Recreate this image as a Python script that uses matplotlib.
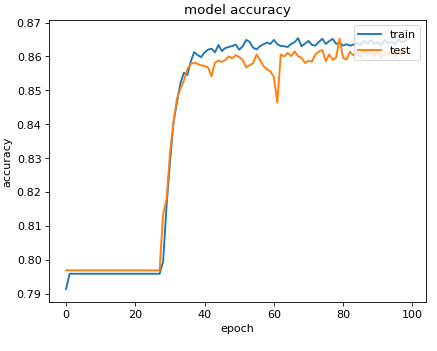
import matplotlib
matplotlib.use("Agg")
import matplotlib.pyplot as plt

# accuracy per epoch
train_acc = [
    0.7915, 0.7960, 0.7960, 0.7960, 0.7960, 0.7960, 0.7960, 0.7960, 0.7960, 0.7960,
    0.7960, 0.7960, 0.7960, 0.7960, 0.7960, 0.7960, 0.7960, 0.7960, 0.7960, 0.7960,
    0.7960, 0.7960, 0.7960, 0.7960, 0.7960, 0.7960, 0.7960, 0.7960, 0.7995, 0.8158,
    0.8288, 0.8405, 0.8465, 0.8520, 0.8552, 0.8545, 0.8585, 0.8613, 0.8604, 0.8598,
    0.8612, 0.8620, 0.8623, 0.8612, 0.8634, 0.8616, 0.8625, 0.8628, 0.8631, 0.8635,
    0.8620, 0.8630, 0.8649, 0.8643, 0.8626, 0.8621, 0.8630, 0.8636, 0.8641, 0.8637,
    0.8649, 0.8636, 0.8631, 0.8630, 0.8628, 0.8637, 0.8642, 0.8654, 0.8630, 0.8638,
    0.8646, 0.8634, 0.8632, 0.8643, 0.8652, 0.8637, 0.8645, 0.8652, 0.8637, 0.8641,
    0.8632, 0.8636, 0.8632, 0.8635, 0.8640, 0.8634, 0.8645, 0.8638, 0.8650, 0.8636,
    0.8642, 0.8633, 0.8648, 0.8639, 0.8644, 0.8636, 0.8650, 0.8641, 0.8647, 0.8652,
]
test_acc = [
    0.7970, 0.7970, 0.7970, 0.7970, 0.7970, 0.7970, 0.7970, 0.7970, 0.7970, 0.7970,
    0.7970, 0.7970, 0.7970, 0.7970, 0.7970, 0.7970, 0.7970, 0.7970, 0.7970, 0.7970,
    0.7970, 0.7970, 0.7970, 0.7970, 0.7970, 0.7970, 0.7970, 0.7970, 0.8135, 0.8178,
    0.8315, 0.8405, 0.8475, 0.8505, 0.8528, 0.8562, 0.8578, 0.8582, 0.8578, 0.8574,
    0.8572, 0.8568, 0.8542, 0.8582, 0.8588, 0.8584, 0.8590, 0.8600, 0.8595, 0.8604,
    0.8598, 0.8590, 0.8568, 0.8574, 0.8580, 0.8606, 0.8590, 0.8572, 0.8562, 0.8556,
    0.8540, 0.8464, 0.8606, 0.8600, 0.8611, 0.8601, 0.8615, 0.8601, 0.8596, 0.8581,
    0.8587, 0.8585, 0.8606, 0.8615, 0.8619, 0.8586, 0.8606, 0.8590, 0.8597, 0.8653,
    0.8596, 0.8591, 0.8614, 0.8603, 0.8612, 0.8598, 0.8620, 0.8605, 0.8615, 0.8600,
    0.8618, 0.8596, 0.8612, 0.8604, 0.8622, 0.8600, 0.8614, 0.8608, 0.8618, 0.8610,
]
series_names = ["train", "test"]

plt.rcParams["font.size"] = 10.6  # texto un poco mayor que el default
plt.rcParams["lines.linewidth"] = 1.8

fig = plt.figure(figsize=(437 / 76, 351.2 / 76), dpi=76)
ax = fig.add_axes([0.1121, 0.1387, 0.8627, 0.8043])
ax.plot(train_acc, label=series_names[0])
ax.plot(test_acc, label=series_names[1])
ax.set_ylim(0.7876, 0.8708)
ax.set_title("model accuracy")
ax.set_ylabel("accuracy")
ax.set_xlabel("epoch")
ax.legend(loc="upper right")
fig.savefig("out.png", dpi=76)
